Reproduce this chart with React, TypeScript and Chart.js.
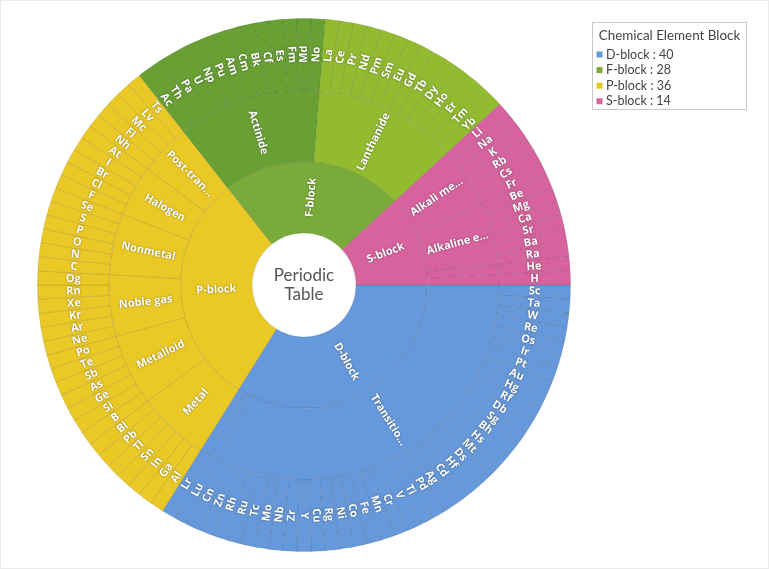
import React, { useEffect, useRef } from 'react';
import { Chart, registerables } from 'chart.js';

Chart.register(...registerables);

// ---------- DATA ----------
const blockNames = ['D-block', 'F-block', 'P-block', 'S-block'];
const blockColors = ['#6699dc', '#7aab3a', '#eac926', '#d7639e'];
// order of the blocks around the ring (clockwise from 3 o'clock)
const ringBlockOrder = [0, 2, 1, 3];

const categoryNames = [
  'Transition metal', 'Lanthanide', 'Actinide',
  'Metal', 'Metalloid', 'Noble gas', 'Nonmetal', 'Halogen', 'Post-transition metal',
  'Actinide', 'Lanthanide',
  'Alkali metal', 'Alkaline earth metal', 'Noble gas', 'Nonmetal',
];
const categoryBlocks = [0, 0, 0, 2, 2, 2, 2, 2, 2, 1, 1, 3, 3, 3, 3];
const categoryColors = [
  '#6699dc', '#6699dc', '#6699dc',
  '#eac926', '#eac926', '#eac926', '#eac926', '#eac926', '#eac926',
  '#68a033', '#93bb2f',
  '#d7639e', '#d7639e', '#d7639e', '#d7639e',
];

const transitionMetals = ['Sc', 'Ta', 'W', 'Re', 'Os', 'Ir', 'Pt', 'Au', 'Hg', 'Rf', 'Db', 'Sg', 'Bh', 'Hs', 'Mt', 'Ds', 'Hf', 'Cd', 'Ag', 'Pd', 'Ti', 'V', 'Cr', 'Mn', 'Fe', 'Co', 'Ni', 'Rg', 'Cu', 'Y', 'Zr', 'Nb', 'Mo', 'Tc', 'Ru', 'Rh', 'Zn', 'Cn'];
const dLanthanide = ['Lu'];
const dActinide = ['Lr'];
const metals = ['Al', 'Ga', 'In', 'Sn', 'Tl', 'Pb', 'Bi'];
const metalloids = ['B', 'Si', 'Ge', 'As', 'Sb', 'Te', 'Po'];
const nobleGases = ['Ne', 'Ar', 'Kr', 'Xe', 'Rn', 'Og'];
const nonmetals = ['C', 'N', 'O', 'P', 'S', 'Se'];
const halogens = ['F', 'Cl', 'Br', 'I', 'At'];
const postTransition = ['Nh', 'Fl', 'Mc', 'Lv', 'Ts'];
const actinides = ['Ac', 'Th', 'Pa', 'U', 'Np', 'Pu', 'Am', 'Cm', 'Bk', 'Cf', 'Es', 'Fm', 'Md', 'No'];
const lanthanides = ['La', 'Ce', 'Pr', 'Nd', 'Pm', 'Sm', 'Eu', 'Gd', 'Tb', 'Dy', 'Ho', 'Er', 'Tm', 'Yb'];
const alkaliMetals = ['Li', 'Na', 'K', 'Rb', 'Cs', 'Fr'];
const alkalineEarth = ['Be', 'Mg', 'Ca', 'Sr', 'Ba', 'Ra'];
const sNoble = ['He'];
const sNonmetal = ['H'];

const categoryElements: string[][] = [
  transitionMetals, dLanthanide, dActinide,
  metals, metalloids, nobleGases, nonmetals, halogens, postTransition,
  actinides, lanthanides,
  alkaliMetals, alkalineEarth, sNoble, sNonmetal,
];

const legendTitle = 'Chemical Element Block';
const centerLines = ['Periodic', 'Table'];

// ---------- derived ----------
const elementLabels: string[] = [];
const elementColors: string[] = [];
categoryElements.forEach((els, ci) => {
  els.forEach((e) => {
    elementLabels.push(e);
    elementColors.push(categoryColors[ci]);
  });
});
const categoryCounts = categoryElements.map((e) => e.length);
const blockCounts = blockNames.map((_, bi) =>
  categoryCounts.reduce((s, c, ci) => (categoryBlocks[ci] === bi ? s + c : s), 0)
);
const ringBlockCounts = ringBlockOrder.map((b) => blockCounts[b]);
const ringBlockColors = ringBlockOrder.map((b) => blockColors[b]);
const ringBlockLabels = ringBlockOrder.map((b) => blockNames[b]);

const LABEL_FONT = 'bold 11px "Open Sans", "DejaVu Sans", sans-serif';

function fitText(ctx: CanvasRenderingContext2D, text: string, maxW: number) {
  if (ctx.measureText(text).width <= maxW) return text;
  let t = text;
  while (t.length > 1 && ctx.measureText(t + '...').width > maxW) t = t.slice(0, -1);
  return t + '...';
}

const labelPlugin = {
  id: 'sunburstLabels',
  afterDatasetsDraw(chart: any) {
    const ctx: CanvasRenderingContext2D = chart.ctx;
    chart.data.datasets.forEach((ds: any, di: number) => {
      const meta = chart.getDatasetMeta(di);
      meta.data.forEach((arc: any, i: number) => {
        const p = arc.getProps(['x', 'y', 'startAngle', 'endAngle', 'innerRadius', 'outerRadius'], true);
        const span = p.endAngle - p.startAngle;
        const r = (p.innerRadius + p.outerRadius) / 2;
        if (span * r < 11) return;
        const mid = (p.startAngle + p.endAngle) / 2;
        ctx.save();
        ctx.font = LABEL_FONT;
        const maxW = p.outerRadius - p.innerRadius - 7;
        const text = fitText(ctx, ds.segLabels[i], maxW);
        const tx = p.x + Math.cos(mid) * r;
        const ty = p.y + Math.sin(mid) * r;
        let a = mid % (Math.PI * 2);
        if (a < 0) a += Math.PI * 2;
        let rot = a;
        if (a > Math.PI / 2 && a < (Math.PI * 3) / 2) rot = a - Math.PI;
        ctx.translate(tx, ty);
        ctx.rotate(rot);
        ctx.textAlign = 'center';
        ctx.textBaseline = 'middle';
        ctx.shadowColor = 'rgba(0,0,0,0.5)';
        ctx.shadowBlur = 2;
        ctx.fillStyle = '#ffffff';
        ctx.fillText(text, 0, 0);
        ctx.restore();
      });
    });
  },
  afterDraw(chart: any) {
    const ctx: CanvasRenderingContext2D = chart.ctx;
    const meta = chart.getDatasetMeta(0);
    const arc = meta.data[0];
    ctx.save();
    // center text
    ctx.fillStyle = '#555555';
    ctx.font = '17px Lato, "Open Sans", sans-serif';
    ctx.textAlign = 'center';
    ctx.textBaseline = 'middle';
    ctx.fillText(centerLines[0], arc.x, arc.y - 9.5);
    ctx.fillText(centerLines[1], arc.x, arc.y + 9.5);

    // legend (canvas is offset 1px by the container border)
    const lx = 591.5, ly = 21.5, lw = 154, lh = 87;
    ctx.strokeStyle = '#c8c8c8';
    ctx.lineWidth = 1;
    ctx.strokeRect(lx, ly, lw, lh);
    ctx.fillStyle = '#444444';
    ctx.font = '13.4px Lato, "Open Sans", sans-serif';
    ctx.textAlign = 'center';
    ctx.fillText(legendTitle, lx + lw / 2, ly + 13);
    ctx.font = '12.5px Lato, "Open Sans", sans-serif';
    ctx.textAlign = 'left';
    blockNames.forEach((b, i) => {
      const y = ly + 32 + i * 15.6;
      ctx.fillStyle = blockColors[i];
      ctx.fillRect(lx + 4, y - 3, 6, 6);
      ctx.fillStyle = '#444444';
      ctx.fillText(`${b} : ${blockCounts[i]}`, lx + 13.5, y);
    });
    ctx.restore();
  },
};

export default function App() {
  const canvasRef = useRef<HTMLCanvasElement>(null);

  useEffect(() => {
    document.body.style.margin = '0';
    const canvas = canvasRef.current;
    if (!canvas) return;
    const chart = new Chart(canvas, {
      type: 'doughnut',
      data: {
        labels: elementLabels,
        datasets: [
          {
            data: elementLabels.map(() => 1),
            backgroundColor: elementColors,
            borderColor: 'rgba(0,0,0,0.1)',
            borderWidth: 1,
            segLabels: elementLabels,
          } as any,
          {
            data: categoryCounts,
            backgroundColor: categoryColors,
            borderColor: 'rgba(0,0,0,0.1)',
            borderWidth: 1,
            segLabels: categoryNames,
          } as any,
          {
            data: ringBlockCounts,
            backgroundColor: ringBlockColors,
            borderColor: 'rgba(0,0,0,0.1)',
            borderWidth: 1,
            segLabels: ringBlockLabels,
          } as any,
        ],
      },
      options: {
        animation: false,
        responsive: true,
        maintainAspectRatio: false,
        rotation: 90,
        cutout: '19.5%',
        layout: { padding: { left: 36, right: 197, top: 17, bottom: 16 } },
        plugins: {
          legend: { display: false },
          tooltip: { enabled: false },
        },
      },
      plugins: [labelPlugin],
    });
    return () => chart.destroy();
  }, []);

  return (
    <div
      style={{
        position: 'relative',
        width: 769,
        height: 569,
        boxSizing: 'border-box',
        border: '1px solid #ebebeb',
        background: '#ffffff',
      }}
    >
      <div style={{ position: 'absolute', left: 0, top: 0, width: 767, height: 567 }}>
        <canvas ref={canvasRef} />
      </div>
    </div>
  );
}
